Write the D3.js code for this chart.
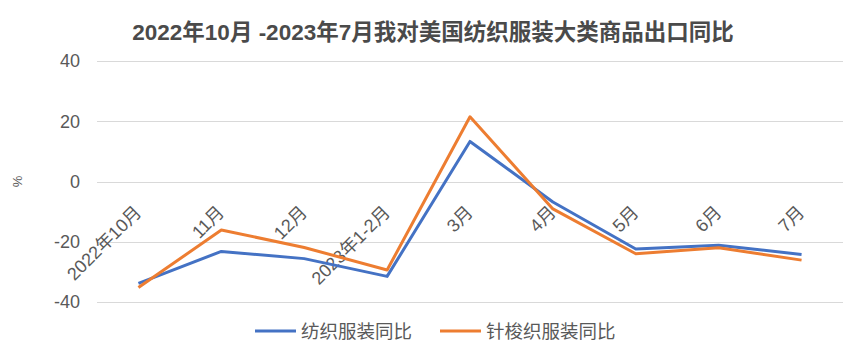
<!DOCTYPE html>
<html>
<head>
<meta charset="utf-8">
<script src="https://cdn.jsdelivr.net/npm/d3@7"></script>
<style>
  body { margin: 0; background: #fff; }
  text { font-family: "Liberation Sans", "Noto Sans CJK SC", sans-serif; }
</style>
</head>
<body>
<div id="chart"></div>
<script>
var categories = ["2022年10月", "11月", "12月", "2023年1-2月", "3月", "4月", "5月", "6月", "7月"];
var textileVals = [-33.8, -23.2, -25.6, -31.5, 13.3, -6.8, -22.4, -21.2, -24.2];
var knitVals = [-35.2, -16.1, -21.9, -29.4, 21.5, -9.1, -24.0, -22.0, -26.1];
var yTicks = [-40, -20, 0, 20, 40];
var seriesNames = ["纺织服装同比", "针梭织服装同比"];
var colors = ["#4472C4", "#ED7D31"];

var width = 865, height = 363;
var margin = {top: 61, left: 97, right: 22, bottom: 61};

var svg = d3.select("#chart").append("svg")
    .attr("width", width)
    .attr("height", height);

var xscale = d3.scaleBand()
    .domain(categories)
    .range([margin.left, width - margin.right]);

var yscale = d3.scaleLinear()
    .domain([-40, 40])
    .range([height - margin.bottom, margin.top]);

// title
svg.append("text")
    .attr("x", 433)
    .attr("y", 40)
    .attr("text-anchor", "middle")
    .style("font-size", "22.5px")
    .style("font-weight", "bold")
    .style("fill", "#4a4a4a")
    .text("2022年10月 -2023年7月我对美国纺织服装大类商品出口同比");

// gridlines
svg.append("g")
    .selectAll("line")
    .data(yTicks).enter()
    .append("line")
    .attr("x1", margin.left)
    .attr("x2", width - margin.right)
    .attr("y1", function(d) { return Math.round(yscale(d)) + 0.5; })
    .attr("y2", function(d) { return Math.round(yscale(d)) + 0.5; })
    .attr("stroke", "#d9d9d9")
    .attr("stroke-width", 1);

// y axis labels
svg.append("g")
    .selectAll("text")
    .data(yTicks).enter()
    .append("text")
    .attr("x", 80)
    .attr("y", function(d) { return yscale(d); })
    .attr("dy", "0.36em")
    .attr("text-anchor", "end")
    .style("font-size", "18px")
    .style("fill", "#595959")
    .text(function(d) { return d; });

// y axis title
svg.append("text")
    .attr("transform", "translate(22," + yscale(0) + ") rotate(-90)")
    .attr("text-anchor", "middle")
    .style("font-size", "13px")
    .style("fill", "#595959")
    .text("%");

// x axis labels (rotated)
svg.append("g")
    .selectAll("text")
    .data(categories).enter()
    .append("text")
    .attr("transform", function(d) {
        var cx = xscale(d) + xscale.bandwidth() / 2;
        return "translate(" + (cx + 4) + "," + (yscale(0) + 32) + ") rotate(-45)";
    })
    .attr("text-anchor", "end")
    .style("font-size", "18px")
    .style("fill", "#595959")
    .text(function(d) { return d; });

// lines
var line = d3.line()
    .x(function(d, i) { return xscale(categories[i]) + xscale.bandwidth() / 2; })
    .y(function(d) { return yscale(d); });

[textileVals, knitVals].forEach(function(vals, k) {
    svg.append("path")
        .datum(vals)
        .attr("d", line)
        .attr("fill", "none")
        .attr("stroke", colors[k])
        .attr("stroke-width", 3)
        .attr("stroke-linejoin", "round");
});

// legend
var legendX = [255, 440];
seriesNames.forEach(function(name, k) {
    var g = svg.append("g").attr("transform", "translate(" + legendX[k] + ",331)");
    g.append("line")
        .attr("x1", 0).attr("x2", 41)
        .attr("y1", 0).attr("y2", 0)
        .attr("stroke", colors[k])
        .attr("stroke-width", 3);
    g.append("text")
        .attr("x", 46)
        .attr("y", 0)
        .attr("dy", "0.36em")
        .style("font-size", "18.5px")
        .style("fill", "#595959")
        .text(name);
});
</script>
</body>
</html>
